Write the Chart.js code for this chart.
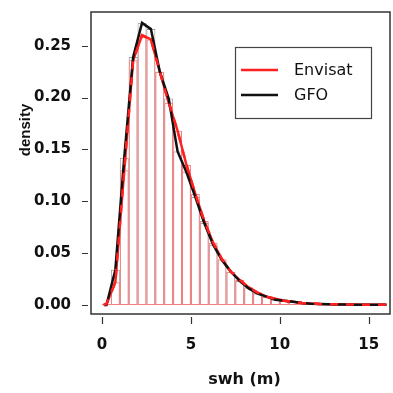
<!DOCTYPE html>
<html>
<head>
<meta charset="utf-8">
<script src="https://cdn.jsdelivr.net/npm/chart.js@4.4.1/dist/chart.umd.min.js"></script>
<style>
  html, body { margin: 0; padding: 0; background: #fff; }
  #wrap { width: 393px; height: 393px; }
</style>
</head>
<body>
<div id="wrap"><canvas id="chart" width="393" height="393"></canvas></div>
<script>
// ── Data ────────────────────────────────────────────────────
// bin midpoints, 0.5 m bins from 0 to 16
const binMid = [0.25, 0.75, 1.25, 1.75, 2.25, 2.75, 3.25, 3.75, 4.25, 4.75,
                5.25, 5.75, 6.25, 6.75, 7.25, 7.75, 8.25, 8.75, 9.25, 9.75,
                10.25, 10.75, 11.25, 11.75, 12.25, 12.75, 13.25, 13.75, 14.25, 14.75,
                15.25, 15.75];

const envHist = [0.001, 0.022, 0.130, 0.236, 0.260, 0.256, 0.225, 0.195, 0.168, 0.135,
                 0.107, 0.081, 0.060, 0.044, 0.032, 0.024, 0.017, 0.012, 0.008, 0.006,
                 0.004, 0.003, 0.002, 0.0015, 0.001, 0.0008, 0.0006, 0.0005, 0.0004, 0.0003,
                 0.0002, 0.0002];

const gfoHist = [0.000, 0.034, 0.142, 0.239, 0.272, 0.266, 0.225, 0.199, 0.148, 0.128,
                 0.104, 0.079, 0.058, 0.043, 0.032, 0.023, 0.016, 0.011, 0.008, 0.005,
                 0.004, 0.003, 0.002, 0.0013, 0.001, 0.0007, 0.0005, 0.0004, 0.0003, 0.0002,
                 0.0002, 0.0001];

// density curves (polyline through the bin tops, plus the two ends)
const densX   = [0.1].concat(binMid, [16.0]);
const envDens = [0].concat(envHist, [0.0002]);
const gfoDens = [0].concat(gfoHist, [0.0001]);

const xTicks = [0, 5, 10, 15];
const yTicks = [0, 0.05, 0.10, 0.15, 0.20, 0.25];

const seriesNames = ['Envisat', 'GFO'];
const RED   = '#FF2020';
const BLACK = '#111111';

const pts = (xs, ys) => xs.map((x, i) => ({ x, y: ys[i] }));

// ── Frame, ticks, axis titles & legend drawn on top ─────────
const framePlugin = {
  id: 'frame',
  afterDraw(chart) {
    const { ctx, chartArea: a, scales: { x, y } } = chart;
    ctx.save();
    ctx.strokeStyle = '#333';
    ctx.lineWidth = 1.5;
    ctx.strokeRect(a.left, a.top, a.right - a.left, a.bottom - a.top);

    // tick marks, set slightly off the box like R
    ctx.lineWidth = 1.2;
    ctx.beginPath();
    yTicks.forEach(v => {
      const py = Math.round(y.getPixelForValue(v)) + 0.5;
      ctx.moveTo(a.left - 9, py); ctx.lineTo(a.left - 3, py);
    });
    xTicks.forEach(v => {
      const px = Math.round(x.getPixelForValue(v)) + 0.5;
      ctx.moveTo(px, a.bottom + 3); ctx.lineTo(px, a.bottom + 10);
    });
    ctx.stroke();

    // axis titles
    ctx.fillStyle = '#111';
    ctx.textAlign = 'center';
    ctx.textBaseline = 'middle';
    ctx.font = 'bold 16px "DejaVu Sans"';
    ctx.fillText('swh (m)', (a.left + a.right) / 2 + 4, 380);
    ctx.save();
    ctx.translate(26, 130);
    ctx.rotate(-Math.PI / 2);
    ctx.font = 'bold 15px "Liberation Sans"';
    ctx.fillText('density', 0, 0);
    ctx.restore();

    // legend
    const lx = 235, ly = 47, lw = 136, lh = 71;
    ctx.strokeStyle = '#444';
    ctx.lineWidth = 1.2;
    ctx.strokeRect(lx + 0.5, ly + 0.5, lw, lh);
    const cols = [RED, BLACK];
    ctx.font = '16px "DejaVu Sans"';
    ctx.textAlign = 'left';
    seriesNames.forEach((name, i) => {
      const yy = ly + 23 + i * 25;
      ctx.strokeStyle = cols[i];
      ctx.lineWidth = 2.5;
      ctx.beginPath();
      ctx.moveTo(lx + 6, yy); ctx.lineTo(lx + 43, yy);
      ctx.stroke();
      ctx.fillStyle = '#111';
      ctx.fillText(name, lx + 59, yy + 1);
    });
    ctx.restore();
  }
};

const tickFont = { family: '"DejaVu Sans"', size: 15, weight: 'bold' };

new Chart(document.getElementById('chart'), {
  type: 'bar',
  data: {
    datasets: [
      { type: 'line', label: 'Envisat dashed', data: pts(densX, envDens),
        borderColor: RED, borderWidth: 2.5, borderDash: [8, 8], pointRadius: 0, order: 1 },
      { type: 'line', label: 'GFO', data: pts(densX, gfoDens),
        borderColor: BLACK, borderWidth: 2.5, pointRadius: 0, order: 2 },
      { type: 'line', label: 'Envisat', data: pts(densX, envDens),
        borderColor: RED, borderWidth: 2.5, pointRadius: 0, order: 3 },
      { label: 'Envisat hist', data: pts(binMid, envHist),
        borderColor: '#F47E7E', backgroundColor: 'rgba(0,0,0,0)', borderWidth: 1,
        inflateAmount: 0, borderSkipped: false, grouped: false,
        barPercentage: 1, categoryPercentage: 1, order: 4 },
      { label: 'GFO hist', data: pts(binMid, gfoHist),
        borderColor: 'rgba(0,0,0,0.5)', backgroundColor: 'rgba(0,0,0,0)', borderWidth: 0.7,
        inflateAmount: 0, borderSkipped: false, grouped: false,
        barPercentage: 1, categoryPercentage: 1, order: 5 }
    ]
  },
  options: {
    responsive: false,
    animation: false,
    devicePixelRatio: 1,
    layout: { padding: { left: 0, right: 3, top: 12, bottom: 0 } },
    plugins: { legend: { display: false }, tooltip: { enabled: false } },
    scales: {
      x: {
        type: 'linear', min: -0.62, max: 16.2, offset: false,
        grid: { display: false, drawTicks: false }, border: { display: false },
        ticks: { font: tickFont, color: '#111', padding: 22, maxRotation: 0, autoSkip: false },
        afterBuildTicks: s => { s.ticks = xTicks.map(v => ({ value: v })); },
        afterFit: s => { s.height = 79; s.paddingLeft = 0; s.paddingRight = 0; }
      },
      y: {
        type: 'linear', min: -0.0087, max: 0.2825,
        grid: { display: false, drawTicks: false }, border: { display: false },
        ticks: { font: tickFont, color: '#111', padding: 20, autoSkip: false,
                 callback: v => Number(v).toFixed(2) },
        afterBuildTicks: s => { s.ticks = yTicks.map(v => ({ value: v })); },
        afterFit: s => { s.width = 91; s.paddingTop = 0; s.paddingBottom = 0; }
      }
    }
  },
  plugins: [framePlugin]
});
</script>
</body>
</html>
